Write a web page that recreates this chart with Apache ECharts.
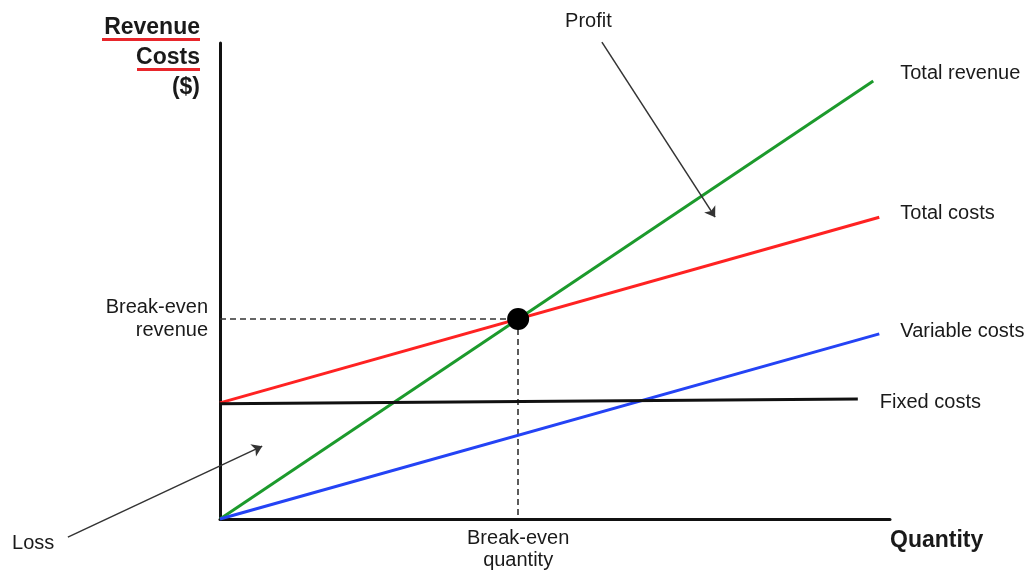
<!DOCTYPE html>
<html>
<head>
<meta charset="utf-8">
<script src="https://cdn.jsdelivr.net/npm/echarts@6/dist/echarts.min.js"></script>
<style>
  html, body { margin: 0; background: #fff; }
  #chart { width: 1035px; height: 570px; }
</style>
</head>
<body>
<div id="chart"></div>
<script>
// Quantity and money both run on 0..100 (no real units on the diagram)
const totalRevenue = [[0, 0], [97.5, 92.0]];
const totalCosts = [[0, 24.4], [98.4, 63.4]];
const variableCosts = [[0, 0], [98.4, 38.9]];
const fixedCosts = [[0, 24.2], [95.2, 25.2]];
const breakEven = [44.5, 42.0];

// annotation arrows: [tail, head]
const lossArrow = [[-22.7, -3.8], [6.3, 15.3]];
const profitArrow = [[57.0, 100.2], [73.9, 63.4]];

const FONT = 'Liberation Sans';
const TEXT = '#1a1a1a';
const LABEL_SIZE = 20;

const chartDom = document.getElementById('chart');
const myChart = echarts.init(chartDom);

function costLine(name, data, color, offset) {
  return {
    name: name,
    type: 'line',
    data: data,
    showSymbol: false,
    clip: false,
    silent: true,
    lineStyle: { color: color, width: 3 },
    itemStyle: { color: color },
    endLabel: {
      show: true,
      formatter: '{a}',
      distance: 0,
      offset: offset,
      color: TEXT,
      fontSize: LABEL_SIZE,
      fontFamily: FONT,
    },
    z: 3,
  };
}

const option = {
  animation: false,
  textStyle: { fontFamily: FONT },
  grid: { left: 220, top: 43, width: 670, height: 476 },
  xAxis: {
    type: 'value',
    min: 0,
    max: 100,
    name: 'Quantity',
    nameLocation: 'end',
    nameGap: 0,
    nameTextStyle: {
      fontWeight: 'bold',
      fontSize: 23,
      color: TEXT,
      align: 'left',
      verticalAlign: 'top',
      padding: [10, 0, 0, 0],
    },
    axisLine: { onZero: false, lineStyle: { color: '#111', width: 3 } },
    axisTick: { show: false },
    axisLabel: { show: false },
    splitLine: { show: false },
  },
  yAxis: {
    type: 'value',
    min: 0,
    max: 100,
    name: '{t|Revenue}\n{u1| }\n{s| }\n{t|Costs}\n{u2| }\n{s| }\n{t|($)}',
    nameLocation: 'end',
    nameGap: 23,
    nameTextStyle: {
      align: 'right',
      verticalAlign: 'top',
      padding: [0, 20, 0, 0],
      rich: {
        t: { fontWeight: 'bold', fontSize: 23, lineHeight: 16, color: TEXT, fontFamily: FONT, align: 'right' },
        u1: { width: 98, height: 3, lineHeight: 7, backgroundColor: '#e8262b', align: 'right' },
        u2: { width: 63, height: 3, lineHeight: 7, backgroundColor: '#e8262b', align: 'right' },
        s: { fontSize: 6, lineHeight: 7 },
      },
    },
    axisLine: { onZero: false, lineStyle: { color: '#111', width: 3 } },
    axisTick: { show: false },
    axisLabel: { show: false },
    splitLine: { show: false },
  },
  series: [
    {
      name: 'guides',
      type: 'lines',
      coordinateSystem: 'cartesian2d',
      clip: false,
      silent: true,
      symbol: 'none',
      lineStyle: { color: '#333', width: 1.6, type: [6, 4], opacity: 1 },
      label: {
        show: true,
        formatter: '{b}',
        color: TEXT,
        fontSize: LABEL_SIZE,
        lineHeight: 23,
        fontFamily: FONT,
      },
      data: [
        {
          name: 'Break-even\nrevenue',
          coords: [[0, breakEven[1]], breakEven],
          label: { position: 'start', distance: 12 },
        },
        {
          name: 'Break-even\nquantity',
          coords: [breakEven, [breakEven[0], 0]],
          label: { position: 'end', distance: 8, lineHeight: 22 },
        },
      ],
      z: 1,
    },
    costLine('Total revenue', totalRevenue, '#1c9a2c', [27, -8]),
    costLine('Total costs', totalCosts, '#ff2222', [21, -4]),
    costLine('Variable costs', variableCosts, '#2443f5', [21, -2]),
    costLine('Fixed costs', fixedCosts, '#111111', [22, 3]),
    {
      name: 'arrows',
      type: 'lines',
      coordinateSystem: 'cartesian2d',
      clip: false,
      silent: true,
      symbol: ['none', 'arrow'],
      symbolSize: 10,
      lineStyle: { color: '#333', width: 1.5, opacity: 1 },
      label: {
        show: true,
        formatter: '{b}',
        position: 'start',
        color: TEXT,
        fontSize: LABEL_SIZE,
        fontFamily: FONT,
      },
      data: [
        { name: 'Loss', coords: lossArrow, label: { distance: 15 } },
        { name: 'Profit', coords: profitArrow, label: { distance: 12, offset: [-7, 0] } },
      ],
      z: 4,
    },
    {
      name: 'Break-even point',
      type: 'scatter',
      data: [breakEven],
      symbolSize: 22,
      itemStyle: { color: '#000', opacity: 1 },
      silent: true,
      z: 5,
    },
  ],
};

myChart.setOption(option);

window.addEventListener('resize', function () {
  myChart.resize();
});
</script>
</body>
</html>
